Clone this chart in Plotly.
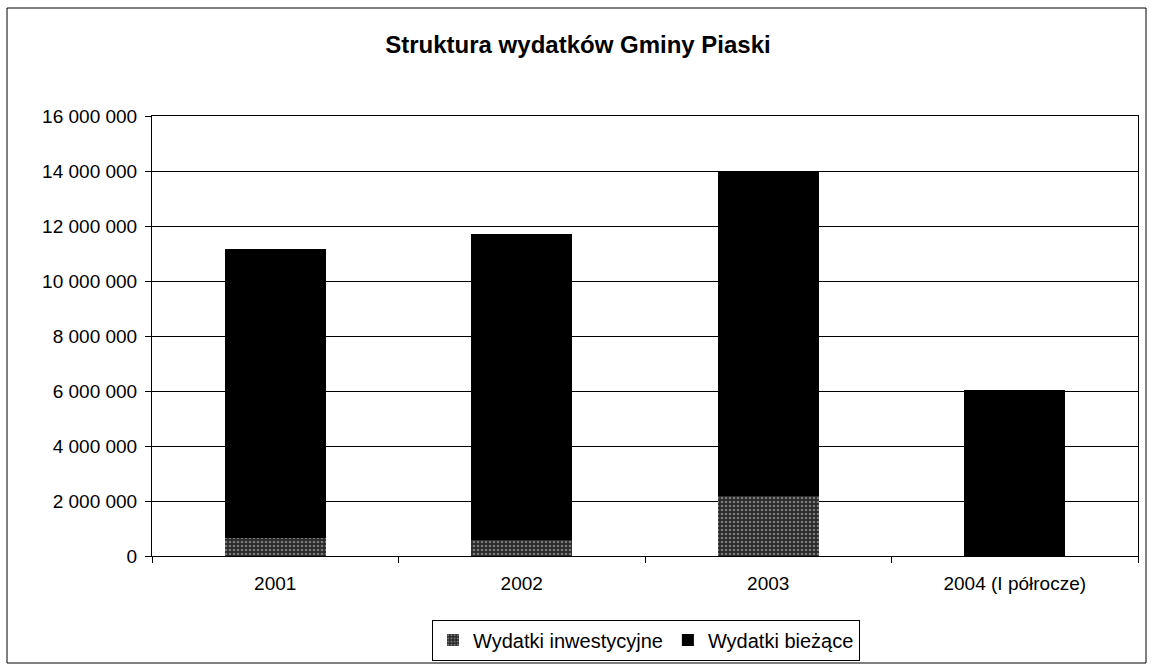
import plotly.graph_objects as go

categories = ["2001", "2002", "2003", "2004 (I półrocze)"]
wydatki_inwestycyjne = [650000, 580000, 2200000, 0]
wydatki_biezace = [10500000, 11120000, 11800000, 6050000]
y_ticks = [0, 2000000, 4000000, 6000000, 8000000, 10000000, 12000000, 14000000, 16000000]
y_tick_labels = ["0", "2 000 000", "4 000 000", "6 000 000", "8 000 000", "10 000 000",
                 "12 000 000", "14 000 000", "16 000 000"]

W, H = 1153, 664
L, R, T, B = 152, W - 1138, 116, H - 556
pw, ph = W - L - R, H - T - B

fig = go.Figure()
fig.add_trace(go.Bar(
    x=categories, y=wydatki_inwestycyjne, name="Wydatki inwestycyjne",
    marker=dict(color="#3c3c3c", line=dict(width=0),
                pattern=dict(shape=".", fgcolor="#c8c8c8", bgcolor="#2a2a2a", size=4, solidity=0.35)),
))
fig.add_trace(go.Bar(
    x=categories, y=wydatki_biezace, name="Wydatki bieżące",
    marker=dict(color="#000000", line=dict(width=0)),
))

font = "Liberation Sans, Arial, sans-serif"
fig.update_layout(
    barmode="stack",
    bargap=0.59,
    width=W, height=H,
    margin=dict(l=L, r=R, t=T, b=B, autoexpand=False),
    paper_bgcolor="white", plot_bgcolor="white",
    font=dict(family=font, size=19, color="black"),
    title=dict(text="<b>Struktura wydatków Gminy Piaski</b>", x=578 / W, xref="container",
               xanchor="center", y=1 - 45 / H, yanchor="middle", yref="container",
               font=dict(size=24, family=font, color="black")),
    showlegend=True,
    legend=dict(orientation="h", x=646 / W, xanchor="center", xref="container",
                y=1 - 640 / H, yanchor="middle", yref="container",
                bordercolor="black", borderwidth=1, bgcolor="white",
                font=dict(size=20), traceorder="normal", itemwidth=30),
    xaxis=dict(type="category", showline=True, linecolor="black", linewidth=1, mirror=True,
               ticks="outside", tickson="boundaries", ticklen=6, tickcolor="black",
               showgrid=False, tickfont=dict(size=19), automargin=False,
               ticklabelstandoff=10),
    yaxis=dict(range=[0, 16000000], tickvals=y_ticks, ticktext=y_tick_labels,
               showline=True, linecolor="black", linewidth=1, mirror=True,
               ticks="outside", ticklen=6, tickcolor="black",
               showgrid=True, gridcolor="black", gridwidth=1, zeroline=False,
               tickfont=dict(size=19), automargin=False, ticklabelstandoff=4),
)

fig.add_shape(type="rect", xref="paper", yref="paper",
              x0=(7 - L) / pw, x1=(1146 - L) / pw,
              y0=(556 - 663) / ph, y1=(556 - 8) / ph,
              line=dict(color="black", width=1), fillcolor="rgba(0,0,0,0)", layer="below")

fig.write_html("out.html", config={"displayModeBar": False},
               post_script="document.body.style.margin='0';document.body.style.overflow='hidden';")
